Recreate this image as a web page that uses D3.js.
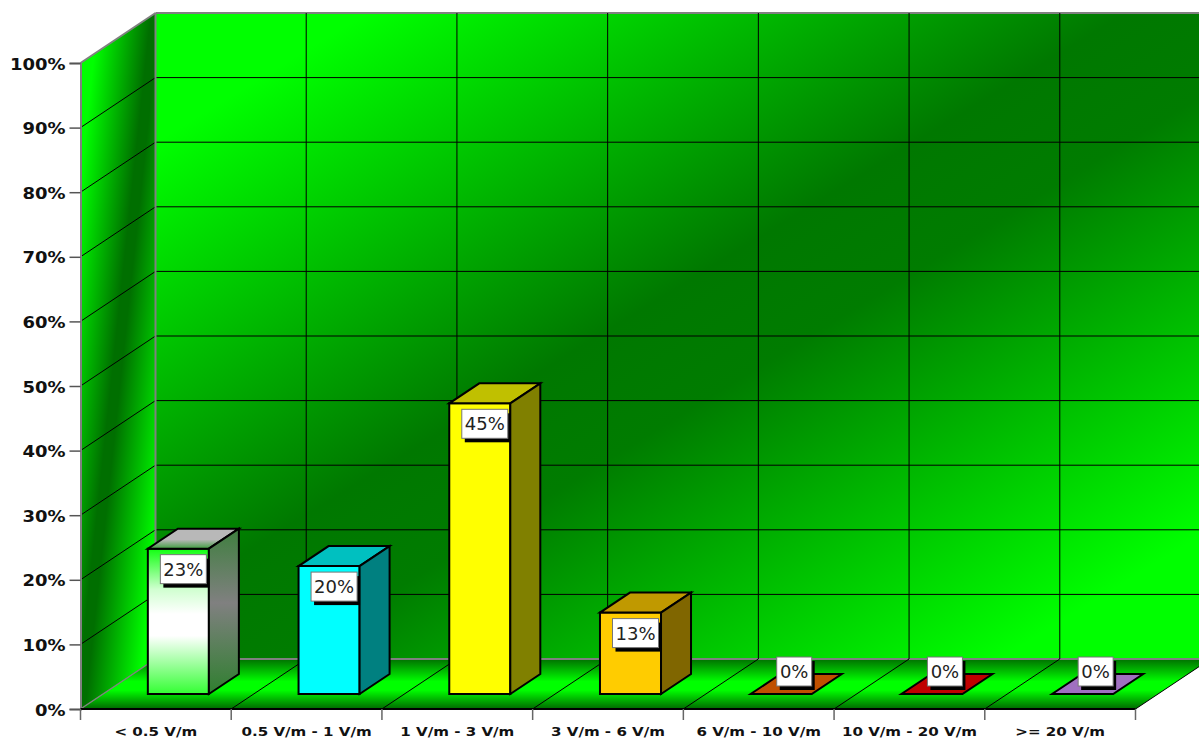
<!DOCTYPE html>
<html><head><meta charset="utf-8">
<script src="https://d3js.org/d3.v7.min.js"></script>
<style>html,body{margin:0;padding:0;background:#fff;overflow:hidden}svg{display:block}</style>
</head><body><svg id="c" width="1199" height="740"></svg>
<script>
const categories = ["< 0.5 V/m","0.5 V/m - 1 V/m","1 V/m - 3 V/m","3 V/m - 6 V/m","6 V/m - 10 V/m","10 V/m - 20 V/m",">= 20 V/m"];
const values = [22.5,19.8,45,12.6,0,0,0];
const valueLabels = ["23%","20%","45%","13%","0%","0%","0%"];
const frontColors = ["url(#barFront)","#00ffff","#ffff00","#ffcc00","#c05000","#c00000","#a070c0"];
const topColors = ["url(#barTop)","#00c0c0","#c0c000","#c09900","#c05000","#c00000","#a070c0"];
const sideColors = ["url(#barSide)","#008080","#808000","#806600","#c05000","#c00000","#a070c0"];
const yTicks = [0,10,20,30,40,50,60,70,80,90,100];

const svg = d3.select("#c");
const X0=80.5, X1=1135.5, Y0=709, Y1=63, DX=75, DY=-50;
const x = d3.scaleBand().domain(categories).range([X0,X1]);
const y = d3.scaleLinear().domain([0,100]).range([Y0,Y1]);
const step = x.step();
const defs = svg.append("defs");
function grad(id,dir,stops){
  const g=defs.append("linearGradient").attr("id",id).attr("gradientUnits","objectBoundingBox")
    .attr("x1",dir[0]).attr("y1",dir[1]).attr("x2",dir[2]).attr("y2",dir[3]);
  stops.forEach(s=>g.append("stop").attr("offset",s[0]).attr("stop-color",s[1]));
}
grad("wall",[0,0,1,1],[[0,"#00ff00"],[0.1,"#00ff00"],[0.46,"#007800"],[0.56,"#007c00"],[0.9,"#00ff00"],[1,"#00ff00"]]);
grad("side",[0,0,1,1],[[0,"#00ff00"],[0.12,"#00ff00"],[0.47,"#006f00"],[0.53,"#006f00"],[0.88,"#00ff00"],[1,"#00ff00"]]);
grad("floor",[0,0,0,1],[[0,"#007000"],[0.45,"#00ff00"],[0.62,"#00ff00"],[1,"#006800"]]);
grad("barFront",[0,0,0,1],[[0,"#11ff11"],[0.28,"#d0ffd0"],[0.45,"#ffffff"],[0.6,"#ffffff"],[1,"#33ff33"]]);
grad("barTop",[0,0,0,1],[[0,"#b8b8b8"],[0.55,"#b8b8b8"],[1,"#3f9f3f"]]);
grad("barSide",[0,0,0,1],[[0,"#3f7f3f"],[0.45,"#808080"],[1,"#2f7f2f"]]);

const poly=(pts,fill,stroke,w)=>svg.append("polygon").attr("points",pts.map(p=>p.join(",")).join(" "))
  .attr("fill",fill).attr("stroke",stroke||"none").attr("stroke-width",w||0).attr("stroke-linejoin","miter");
const line=(a,b,c,w)=>svg.append("line").attr("x1",a[0]).attr("y1",a[1]).attr("x2",b[0]).attr("y2",b[1]).attr("stroke",c).attr("stroke-width",w);
const stretch=(sel,k)=>sel.each(function(){
  const t=d3.select(this);
  t.attr("textLength",this.getComputedTextLength()*k).attr("lengthAdjust","spacingAndGlyphs");
});

// walls
svg.append("rect").attr("x",X0+DX).attr("y",Y1+DY).attr("width",X1-X0).attr("height",Y0-Y1).attr("fill","url(#wall)");
poly([[X0,Y0],[X0,Y1],[X0+DX,Y1+DY],[X0+DX,Y0+DY]],"url(#side)");
poly([[X0,Y0],[X1,Y0],[X1+DX,Y0+DY],[X0+DX,Y0+DY]],"url(#floor)");

// grid
yTicks.slice(1,-1).forEach(t=>{
  line([X0+DX,y(t)+DY],[X1+DX,y(t)+DY],"#000",1);
  line([X0,y(t)],[X0+DX,y(t)+DY],"#000",1);
});
line([X0+DX,y(100)+DY],[X1+DX,y(100)+DY],"#808080",2);
line([X0+DX,y(0)+DY],[X1+DX,y(0)+DY],"#808080",2);
categories.forEach((c,i)=>{
  if(i>0){
    line([x(c),Y0],[x(c)+DX,Y0+DY],"#000",1);
    line([x(c)+DX,Y1+DY],[x(c)+DX,Y0+DY],"#000",1);
  }
});
line([X1,Y0],[X1+DX,Y0+DY],"#000",1);
line([X0,Y0],[X0+DX,Y0+DY],"#808080",1.5);
line([X0,Y1],[X0+DX,Y1+DY],"#808080",2);
line([X0+DX,Y1+DY],[X0+DX,Y0+DY],"#808080",2);

// axes
const yAxis = d3.axisLeft(y).tickValues(yTicks).tickSize(11).tickPadding(4).tickFormat(d=>d+"%");
const gy = svg.append("g").attr("transform",`translate(${X0},0)`).call(yAxis);
gy.select(".domain").attr("stroke","#808080").attr("stroke-width",2);
gy.selectAll(".tick line").attr("stroke","#555").attr("stroke-width",1.5);
gy.selectAll("text").attr("font-family","'DejaVu Sans'").attr("font-weight","bold").attr("font-size",15.5).attr("fill","#111").attr("dy","0.39em");
stretch(gy.selectAll("text"),1.16);
const xAxis = d3.axisBottom(x).tickSize(0).tickPadding(18);
const gx = svg.append("g").attr("transform",`translate(0,${Y0})`).call(xAxis);
gx.select(".domain").remove();
gx.selectAll("text").attr("font-family","'DejaVu Sans'").attr("font-weight","bold").attr("font-size",13).attr("fill","#111");
stretch(gx.selectAll("text"),1.16);
line([X0,Y0],[X1,Y0],"#000",2);
x.domain().concat([null]).forEach((c,i)=>{const px=X0+i*step;line([px,Y0],[px,Y0+11],"#666",1.5);});

// bars
const barW=0.405, bd=0.4, bo=0.3;
categories.forEach((c,i)=>{
  const W=step*barW;
  const ox=bo*DX, oy=bo*DY, ax=bd*DX, ay=bd*DY;
  const left=x(c)+ox+(step-W)/2;
  const bot=Y0+oy, h=Y0-y(values[i]), top=bot-h;
  if(values[i]>0){
    poly([[left,bot],[left+W,bot],[left+W,top],[left,top]],frontColors[i],"#000",2);
    poly([[left,top],[left+W,top],[left+W+ax,top+ay],[left+ax,top+ay]],topColors[i],"#000",2);
    poly([[left+W,bot],[left+W+ax,bot+ay],[left+W+ax,top+ay],[left+W,top]],sideColors[i],"#000",2);
  } else {
    poly([[left,bot],[left+W,bot],[left+W+ax,bot+ay],[left+ax,bot+ay]],frontColors[i],"#000",2);
  }
});
// labels
categories.forEach((c,i)=>{
  const oy=bo*DY, ox=bo*DX, W=step*barW;
  const left=x(c)+ox+(step-W)/2;
  const bot=Y0+oy, top=bot-(Y0-y(values[i]));
  const zero=values[i]===0;
  const bw=zero?35:46, bh=29;
  const cx=left+W/2+(zero?13:5);
  const by=zero?top-37:top+6;
  svg.append("rect").attr("x",cx-bw/2+3).attr("y",by+4).attr("width",bw).attr("height",bh).attr("fill","#000");
  svg.append("rect").attr("x",cx-bw/2).attr("y",by).attr("width",bw).attr("height",bh).attr("fill","#fff").attr("stroke","#777").attr("stroke-width",1);
  svg.append("text").attr("x",cx).attr("y",by+bh/2+6.5).attr("text-anchor","middle")
    .attr("font-family","'DejaVu Sans'").attr("font-size",18).attr("fill","#222").text(valueLabels[i]);
});
</script></body></html>
